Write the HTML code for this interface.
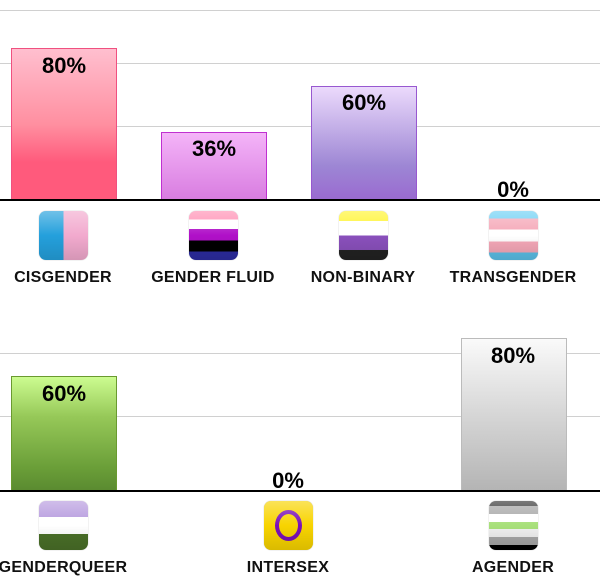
<!DOCTYPE html>
<html><head><meta charset="utf-8"><style>
body{margin:0;width:600px;height:580px;background:#fff;position:relative;overflow:hidden;font-family:"Liberation Sans",sans-serif}
div{position:absolute;box-sizing:border-box}
.g{left:0;width:600px;height:1px;background:#d0d0d0}
.base{left:0;width:600px;height:2px;background:#000}
.bar{border:1px solid}
.p{font-weight:bold;font-size:22px;text-align:center;width:120px;color:#000;line-height:24px}
.ic{width:49px;height:49px;border-radius:7px;overflow:hidden;box-shadow:0 0 1px #aaa}
.ic:after{content:"";position:absolute;left:0;top:0;right:0;bottom:0;background:linear-gradient(rgba(255,255,255,.35),rgba(255,255,255,0) 50%,rgba(0,0,0,.12))}
.l{font-weight:bold;font-size:16px;text-align:center;width:160px;color:#111;letter-spacing:.3px;line-height:18px}
</style></head><body>
<div class="g" style="top:10px"></div>
<div class="g" style="top:63px"></div>
<div class="g" style="top:126px"></div>
<div class="bar" style="left:11px;top:48px;width:106px;height:153px;border-color:#f05080;background:linear-gradient(#ffbfcf,#ff8fa0 50%,#ff5a7c 75%,#ff5a7c)"></div>
<div class="bar" style="left:161px;top:132px;width:106px;height:69px;border-color:#c030d0;background:linear-gradient(#f4b4f8,#d87ce0)"></div>
<div class="bar" style="left:311px;top:86px;width:106px;height:115px;border-color:#9858d0;background:linear-gradient(#ecdafc,#9d86d4 70%,#9a6ad0)"></div>
<div class="base" style="top:199px"></div>
<div class="p" style="left:4px;top:54px">80%</div>
<div class="p" style="left:154px;top:137px">36%</div>
<div class="p" style="left:304px;top:91px">60%</div>
<div class="p" style="left:453px;top:178px">0%</div>
<div class="ic" style="left:39px;top:211px;background:linear-gradient(90deg,#24a0dc 50%,#f2aace 50%)"></div>
<div class="ic" style="left:189px;top:211px;background:linear-gradient(#ff8fb4 0 17%,#fff 17% 37%,#b010c8 37% 60%,#000 60% 83%,#2c2ca0 83%)"></div>
<div class="ic" style="left:339px;top:211px;background:linear-gradient(#fff430 0 20%,#fff 20% 50%,#8a50bc 50% 80%,#222 80%)"></div>
<div class="ic" style="left:489px;top:211px;background:linear-gradient(#6cd0f4 0 15%,#f5a8b8 15% 38%,#fff 38% 62%,#f5a8b8 62% 85%,#5bc0e8 85%)"></div>
<div class="l" style="left:-17px;top:269px">CISGENDER</div>
<div class="l" style="left:133px;top:269px">GENDER FLUID</div>
<div class="l" style="left:283px;top:269px">NON-BINARY</div>
<div class="l" style="left:433px;top:269px">TRANSGENDER</div>

<div class="g" style="top:353px"></div>
<div class="g" style="top:416px"></div>
<div class="bar" style="left:11px;top:376px;width:106px;height:116px;border-color:#6a9a30;background:linear-gradient(#ccfc90,#96c858 35%,#6a9e38 80%,#5a8a30)"></div>
<div class="bar" style="left:461px;top:338px;width:106px;height:154px;border-color:#bbb;background:linear-gradient(#fafafa,#d6d6d6 50%,#b4b4b4)"></div>
<div class="base" style="top:490px"></div>
<div class="p" style="left:4px;top:382px">60%</div>
<div class="p" style="left:228px;top:469px">0%</div>
<div class="p" style="left:453px;top:344px">80%</div>
<div class="ic" style="left:39px;top:501px;background:linear-gradient(#b69ade 0 33%,#fff 33% 67%,#4a7028 67%)"></div>
<div class="ic" style="left:264px;top:501px;background:#f8d400"><div style="left:11px;top:9px;width:27px;height:31px;border:4px solid #7a10b8;border-radius:50%"></div></div>
<div class="ic" style="left:489px;top:501px;background:linear-gradient(#333 0 10%,#a8a8a8 10% 27%,#fff 27% 43%,#a8e07a 43% 57%,#f0f0f0 57% 73%,#a8a8a8 73% 90%,#000 90%)"></div>
<div class="l" style="left:-17px;top:559px">GENDERQUEER</div>
<div class="l" style="left:208px;top:559px">INTERSEX</div>
<div class="l" style="left:433px;top:559px">AGENDER</div>
</body></html>
